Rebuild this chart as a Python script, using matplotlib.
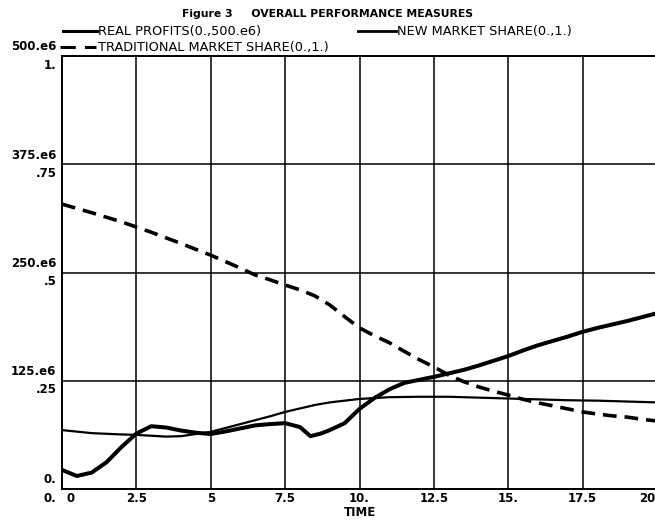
import numpy as np
import matplotlib.pyplot as plt

# values
profit_t = [0, 0.5, 1, 1.5, 2, 2.5, 3, 3.5, 4, 4.5, 5, 5.5, 6, 6.5, 7, 7.5, 8, 8.35, 8.7, 9,
            9.5, 10, 10.5, 11, 11.5, 12, 12.5, 13, 13.5, 14, 14.5, 15, 15.5, 16, 16.5, 17,
            17.5, 18, 18.5, 19, 19.5, 20]
real_profits = [22, 15, 19, 31, 48.5, 64, 72.5, 71, 67.5, 65, 63.5, 66.5, 70, 73.5, 75, 76,
                71.5, 61, 64, 68, 76, 92.5, 105, 115, 122.5, 126, 129.5, 133.5, 137.5, 142.5,
                148, 153.5, 160, 166, 171, 176, 181.5, 186, 190, 194, 198.5, 203]  # millions

new_t = [0, 1, 2, 2.5, 3, 3.5, 4, 5, 6, 7, 7.5, 8, 8.5, 9, 10, 11, 12, 13, 14, 15, 16, 17,
         18, 19, 20]
new_share = [0.136, 0.129, 0.126, 0.125, 0.123, 0.121, 0.122, 0.132, 0.15, 0.168, 0.178,
             0.186, 0.194, 0.2, 0.208, 0.212, 0.213, 0.213, 0.211, 0.209, 0.207, 0.205,
             0.204, 0.202, 0.2]

trad_t = [0, 1, 2, 2.5, 3, 4, 5, 6, 6.5, 7, 7.5, 8, 8.5, 9, 9.5, 10, 10.5, 11, 11.5, 12,
          12.5, 13, 13.5, 14, 14.5, 15, 15.5, 16, 16.5, 17, 17.5, 18, 18.5, 19, 19.5, 20]
trad_share = [0.658, 0.638, 0.617, 0.605, 0.593, 0.567, 0.54, 0.51, 0.494, 0.483, 0.471,
              0.46, 0.446, 0.425, 0.398, 0.372, 0.354, 0.338, 0.318, 0.299, 0.282, 0.263,
              0.248, 0.236, 0.226, 0.217, 0.207, 0.199, 0.192, 0.185, 0.178, 0.173, 0.169,
              0.166, 0.161, 0.157]

x_ticks = [0, 2.5, 5, 7.5, 10, 12.5, 15, 17.5, 20]
x_labels = ['0', '2.5', '5', '7.5', '10.', '12.5', '15.', '17.5', '20']
share_ticks = [0, 0.25, 0.5, 0.75, 1.0]
share_labels = ['0.', '.25', '.5', '.75', '1.']
profit_labels = ['0.', '125.e6', '250.e6', '375.e6', '500.e6']

W, H = 655, 525
fig = plt.figure(figsize=(W / 100, H / 100), dpi=100)
plt.rcParams['font.family'] = 'DejaVu Sans'

# axes box in pixel coords
left, right, top, bottom = 62, 657, 56, 489
ax = fig.add_axes([left / W, 1 - bottom / H, (right - left) / W, (bottom - top) / H])
ax.set_xlim(0, 20)
ax.set_ylim(0, 1)
ax.set_xticks(x_ticks)
ax.set_xticklabels([''] + x_labels[1:-1] + [''], fontsize=8.5, fontweight='bold')
ax.set_yticks(share_ticks)
ax.set_yticklabels([])
ax.tick_params(length=0, pad=2)
ax.grid(True, color='black', linewidth=1.1)
for s in ax.spines.values():
    s.set_linewidth(1.4)
ax.set_xlabel('TIME', fontsize=8.5, fontweight='bold', labelpad=1)

# first and last x labels nudged like the original print
ax.annotate(x_labels[0], xy=(x_ticks[0], 0), xycoords=('data', 'axes fraction'),
            xytext=(3, -2), textcoords='offset points', ha='left', va='top',
            fontsize=8.5, fontweight='bold')
ax.annotate(x_labels[-1], xy=(x_ticks[-1], 0), xycoords=('data', 'axes fraction'),
            xytext=(-1, -2), textcoords='offset points', ha='right', va='top',
            fontsize=8.5, fontweight='bold')

# two stacked labels per gridline: profits above, share below
for v, pl, sl in zip(share_ticks, profit_labels, share_labels):
    ax.annotate(pl, xy=(0, v), xycoords=('axes fraction', 'data'), xytext=(-4, 6.5),
                textcoords='offset points', ha='right', va='center',
                fontsize=8.5, fontweight='bold')
    ax.annotate(sl, xy=(0, v), xycoords=('axes fraction', 'data'), xytext=(-4, -6.5),
                textcoords='offset points', ha='right', va='center',
                fontsize=8.5, fontweight='bold')

ax.plot(new_t, new_share, color='black', linewidth=1.6, solid_capstyle='round')
ax.plot(trad_t, trad_share, color='black', linewidth=2.6, dashes=(3.8, 2.2))

ax2 = ax.twinx()
ax2.set_ylim(0, 500e6)
ax2.set_yticks([])
for s in ax2.spines.values():
    s.set_visible(False)
ax2.plot(profit_t, np.array(real_profits) * 1e6, color='black', linewidth=2.9,
         solid_capstyle='round')

# title and legend rows, placed in pixel coords
def px(x, y):
    return x / W, 1 - y / H

fig.text(*px(327, 14), 'Figure 3     OVERALL PERFORMANCE MEASURES', fontsize=7.8,
         fontweight='bold', ha='center', va='center')
fig.add_artist(plt.Line2D([63 / W, 97 / W], [1 - 31 / H] * 2, color='black', linewidth=2.2))
fig.text(*px(98, 31), 'REAL PROFITS(0.,500.e6)', fontsize=9.3, ha='left', va='center')
fig.add_artist(plt.Line2D([358 / W, 396 / W], [1 - 31 / H] * 2, color='black', linewidth=2.0))
fig.text(*px(397, 31), 'NEW MARKET SHARE(0.,1.)', fontsize=9.3, ha='left', va='center')
fig.add_artist(plt.Line2D([60 / W, 96 / W], [1 - 47 / H] * 2, color='black', linewidth=2.2,
                          dashes=(5, 3)))
fig.text(*px(98, 47), 'TRADITIONAL MARKET SHARE(0.,1.)', fontsize=9.3, ha='left', va='center')

fig.savefig('out.png', dpi=100)
